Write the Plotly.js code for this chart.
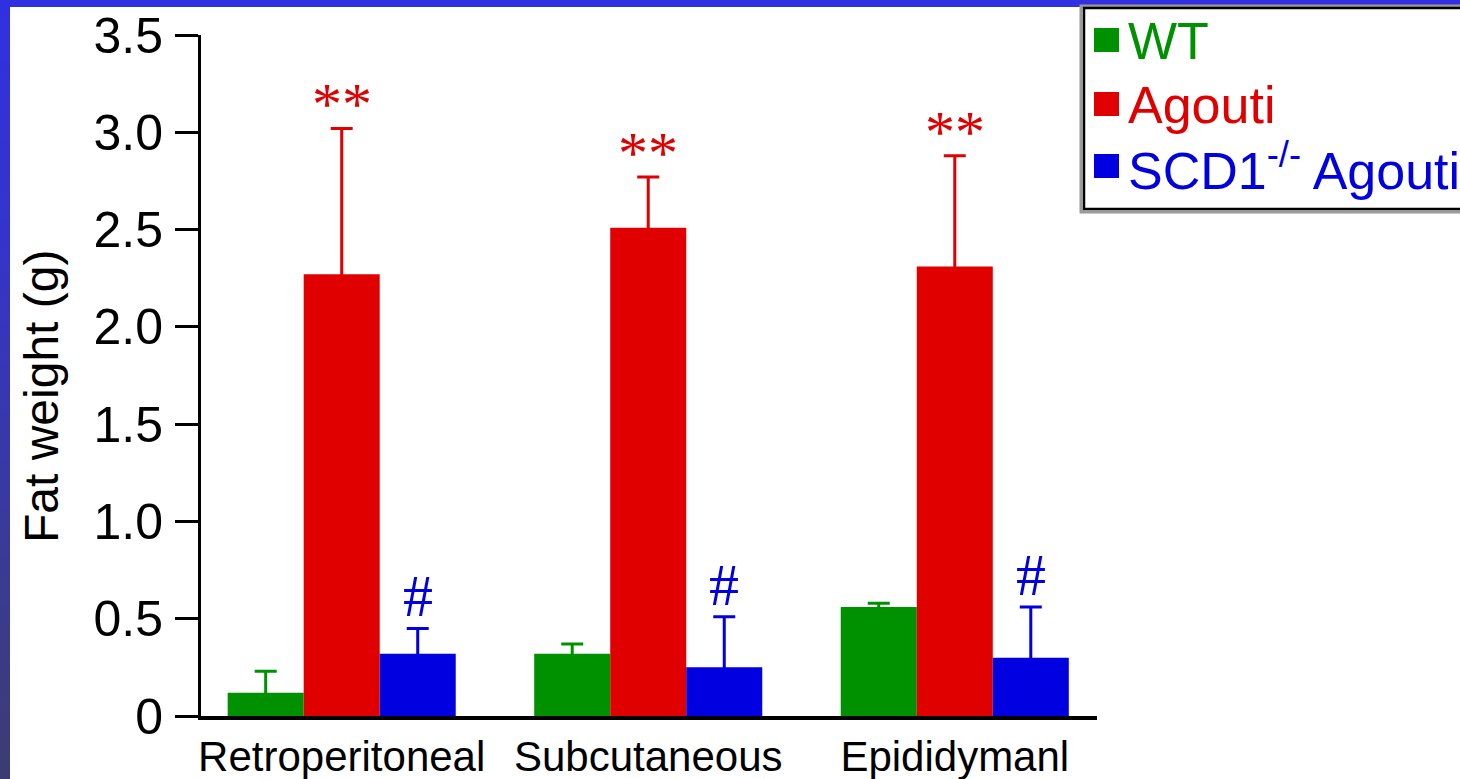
<!DOCTYPE html>
<html>
<head>
<meta charset="utf-8">
<script src="https://cdn.plot.ly/plotly-3.0.1.min.js"></script>
<style>
  html, body { margin: 0; padding: 0; width: 1460px; height: 779px; overflow: hidden; }
  body { background: linear-gradient(to bottom, #3030e2 0%, #3434cc 30%, #3a3a98 70%, #3c3c72 100%); position: relative; }
  #panel { position: absolute; left: 10px; top: 7px; right: 0; bottom: 0; background: #ffffff; }
  #chart { position: absolute; left: 0; top: 0; width: 1460px; height: 779px; }
</style>
</head>
<body>
<div id="panel"></div>
<div id="chart"></div>
<script>
// Fat depot categories
const categories = ['Retroperitoneal', 'Subcutaneous', 'Epididymanl'];

// Series labels and colours
const seriesNames = ['WT', 'Agouti', 'SCD1<sup>-/-</sup> Agouti'];
const seriesColors = ['#009100', '#e00000', '#0000e0'];

// Fat weight (g): means and error
const wtMean = [0.12, 0.32, 0.56];
const wtErr = [0.11, 0.05, 0.02];
const agoutiMean = [2.27, 2.51, 2.31];
const agoutiErr = [0.75, 0.26, 0.57];
const scdMean = [0.32, 0.25, 0.30];
const scdErr = [0.13, 0.26, 0.26];

// Significance marks above bars
const agoutiMarks = ['**', '**', '**'];
const scdMarks = ['#', '#', '#'];

// Y-axis ticks
const yTickVals = [0, 0.5, 1.0, 1.5, 2.0, 2.5, 3.0, 3.5];
const yTickText = ['0', '0.5', '1.0', '1.5', '2.0', '2.5', '3.0', '3.5'];
const yTitle = 'Fat weight (g)';

const FONT = 'Liberation Sans, Arial, Helvetica, sans-serif';
const SERIF = 'Liberation Serif, Times New Roman, serif';
const BARGAP = 0.256;
const W = 1460, H = 779;
const M = { l: 201, r: 363, t: 35, b: 63 };

const xIdx = categories.map((_, i) => i);
const means = [wtMean, agoutiMean, scdMean];
const errs = [wtErr, agoutiErr, scdErr];

// Error bars share the bar colour, so the lower half disappears inside the bar
const traces = means.map((m, s) => ({
  type: 'bar',
  x: xIdx,
  y: m,
  name: seriesNames[s],
  marker: { color: seriesColors[s], line: { width: 0 } },
  error_y: {
    type: 'data', symmetric: true, array: errs[s],
    color: seriesColors[s], thickness: 3, width: 11
  },
  showlegend: false,
  hoverinfo: 'skip'
}));

// Horizontal offset of each bar within its group (in category units)
const barUnit = (1 - BARGAP) / means.length;
const offsetOf = s => (s - (means.length - 1) / 2) * barUnit;

const annotations = [];
agoutiMarks.forEach((t, i) => annotations.push({
  x: i + offsetOf(1), y: agoutiMean[i] + agoutiErr[i], xref: 'x', yref: 'y',
  text: t, showarrow: false, yanchor: 'middle', yshift: 24,
  font: { family: SERIF, size: 60, color: seriesColors[1] }
}));
scdMarks.forEach((t, i) => annotations.push({
  x: i + offsetOf(2), y: scdMean[i] + scdErr[i], xref: 'x', yref: 'y',
  text: t, showarrow: false, yanchor: 'middle', yshift: 32,
  font: { family: SERIF, size: 60, color: seriesColors[2] }
}));

// Pixel -> paper conversion for the legend box and axis title
const pw = W - M.l - M.r, ph = H - M.t - M.b;
const px = v => (v - M.l) / pw;
const py = v => (H - M.b - v) / ph;

annotations.push({
  xref: 'paper', yref: 'paper', x: px(41), y: py(397),
  xanchor: 'center', yanchor: 'middle', textangle: -90,
  text: yTitle, showarrow: false,
  font: { family: FONT, size: 48, color: '#000000' }
});

const shapes = [
  { type: 'rect', xref: 'paper', yref: 'paper', x0: px(1081), x1: px(1480), y0: py(6), y1: py(212),
    line: { color: '#9a9a9a', width: 3 }, fillcolor: 'rgba(0,0,0,0)' },
  { type: 'rect', xref: 'paper', yref: 'paper', x0: px(1084), x1: px(1480), y0: py(8), y1: py(209),
    line: { color: '#000000', width: 2.5 }, fillcolor: '#ffffff' }
];
const rowY = [40, 104, 166];
seriesNames.forEach((n, s) => {
  shapes.push({ type: 'rect', xref: 'paper', yref: 'paper',
    x0: px(1094), x1: px(1119), y0: py(rowY[s] - 12), y1: py(rowY[s] + 12),
    line: { width: 0 }, fillcolor: seriesColors[s] });
  annotations.push({ xref: 'paper', yref: 'paper', x: px(1126), y: py(rowY[s] + 1),
    xanchor: 'left', yanchor: 'middle', text: n, showarrow: false,
    font: { family: FONT, size: 52, color: seriesColors[s] } });
});

const layout = {
  width: W, height: H,
  margin: M,
  paper_bgcolor: 'rgba(0,0,0,0)',
  plot_bgcolor: 'rgba(0,0,0,0)',
  barmode: 'group',
  bargap: BARGAP,
  bargroupgap: 0,
  showlegend: false,
  font: { family: FONT, color: '#000000' },
  xaxis: {
    type: 'linear',
    range: [-0.459, 2.464],
    tickvals: xIdx, ticktext: categories,
    ticks: '', showgrid: false, zeroline: false,
    showline: true, linecolor: '#000000', linewidth: 4,
    tickfont: { family: FONT, size: 42, color: '#000000' },
    ticklabelstandoff: 1
  },
  yaxis: {
    range: [0, 3.5],
    tickvals: yTickVals, ticktext: yTickText,
    ticks: 'outside', ticklen: 23, tickwidth: 3, tickcolor: '#000000',
    showgrid: false, zeroline: false,
    showline: true, linecolor: '#000000', linewidth: 3,
    tickfont: { family: FONT, size: 50, color: '#000000' },
    ticklabelstandoff: 2
  },
  shapes: shapes,
  annotations: annotations
};

Plotly.newPlot('chart', traces, layout, { displayModeBar: false, staticPlot: true });
</script>
</body>
</html>
